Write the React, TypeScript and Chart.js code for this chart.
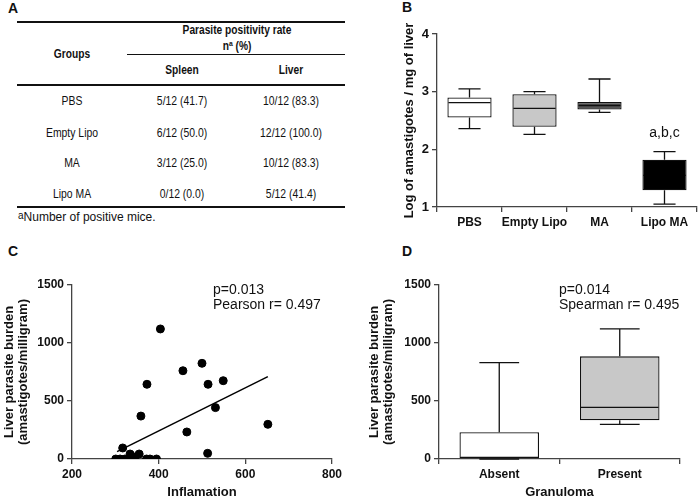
import React, { useEffect, useRef } from 'react';
import { Chart, registerables } from 'chart.js';
Chart.register(...registerables);

const FONT = "'Liberation Sans', Arial, sans-serif";
const INK = '#111111';
const AXIS = '#444444';

// ---------- Panel A (table) ----------
const tableGroups = ['PBS', 'Empty Lipo', 'MA', 'Lipo MA'];
const spleenCol = ['5/12 (41.7)', '6/12 (50.0)', '3/12 (25.0)', '0/12 (0.0)'];
const liverCol = ['10/12 (83.3)', '12/12 (100.0)', '10/12 (83.3)', '5/12 (41.4)'];

// ---------- Panel B (box plot) ----------
const bGroups = ['PBS', 'Empty Lipo', 'MA', 'Lipo MA'];
const bMin = [2.36, 2.26, 2.64, 1.05];
const bQ1 = [2.55, 2.39, 2.69, 1.29];
const bMedian = [2.81, 2.71, 2.76, 1.55];
const bQ3 = [2.9, 2.955, 2.82, 1.82];
const bMax = [3.05, 3.0, 3.22, 1.96];
const bColors = ['#ffffff', '#c8c8c8', '#555555', '#000000'];
const bMedianColors = ['#111111', '#111111', '#111111', '#000000'];
const bNote = 'a,b,c';
const bNoteValue = 2.28;

// ---------- Panel C (scatter) ----------
const inflamation = [301, 311, 317, 322, 334, 338, 345, 355, 372, 380, 395, 359, 465, 373, 404, 456, 500, 514, 531, 549, 652, 513];
const burden = [0, 0, 95, 0, 43, 0, 17, 43, 0, 0, 0, 370, 233, 644, 1121, 761, 825, 644, 443, 675, 299, 49];
const fitX = [304, 652];
const fitY = [63, 710];
const cStats = ['p=0.013', 'Pearson r= 0.497'];

// ---------- Panel D (box plot) ----------
const dGroups = ['Absent', 'Present'];
const dMin = [0, 299];
const dQ1 = [0, 333];
const dMedian = [14, 445];
const dQ3 = [230, 885];
const dMax = [830, 1121];
const dColors = ['#ffffff', '#c8c8c8'];
const dMedianColors = ['#111111', '#111111'];
const dStats = ['p=0.014', 'Spearman r= 0.495'];

const burdenTitle = ['Liver parasite burden', '(amastigotes/milligram)'];

const plainTick = (v: any) => String(v);

function whiskerPlugin(mins: number[], q1s: number[], meds: number[], q3s: number[], maxs: number[], medColors: string[]) {
  return {
    id: 'whiskers',
    afterDatasetsDraw(chart: any) {
      const meta = chart.getDatasetMeta(0);
      const ys = chart.scales.y;
      const ctx = chart.ctx;
      ctx.save();
      ctx.lineWidth = 1.3;
      meta.data.forEach((el: any, i: number) => {
        const { x, width } = el.getProps(['x', 'width'], true);
        const yMin = ys.getPixelForValue(mins[i]);
        const yQ1 = ys.getPixelForValue(q1s[i]);
        const yMed = ys.getPixelForValue(meds[i]);
        const yQ3 = ys.getPixelForValue(q3s[i]);
        const yMax = ys.getPixelForValue(maxs[i]);
        ctx.strokeStyle = INK;
        ctx.beginPath();
        ctx.moveTo(x, yQ3); ctx.lineTo(x, yMax);
        ctx.moveTo(x - width / 4, yMax); ctx.lineTo(x + width / 4, yMax);
        ctx.moveTo(x, yQ1); ctx.lineTo(x, yMin);
        ctx.moveTo(x - width / 4, yMin); ctx.lineTo(x + width / 4, yMin);
        ctx.stroke();
        ctx.strokeStyle = medColors[i];
        ctx.beginPath();
        ctx.moveTo(x - width / 2 + 1, yMed); ctx.lineTo(x + width / 2 - 1, yMed);
        ctx.stroke();
      });
      ctx.restore();
    },
  };
}

type Note = { lines: string[]; at: (chart: any) => { x: number; y: number }; align: CanvasTextAlign; size: number; gap: number };

function notePlugin(notes: Note[]) {
  return {
    id: 'notes',
    afterDraw(chart: any) {
      const ctx = chart.ctx;
      ctx.save();
      notes.forEach((n) => {
        const p = n.at(chart);
        ctx.font = `${n.size}px ${FONT}`;
        ctx.fillStyle = INK;
        ctx.textAlign = n.align;
        ctx.textBaseline = 'middle';
        n.lines.forEach((l, i) => ctx.fillText(l, p.x, p.y + i * n.gap));
      });
      ctx.restore();
    },
  };
}

function axisCommon(extra: any) {
  return {
    border: { display: true, color: AXIS, width: 1.3 },
    grid: { display: true, drawOnChartArea: false, drawTicks: true, tickLength: 5, color: AXIS, lineWidth: 1.3 },
    ...extra,
  };
}

function boxConfig(opts: {
  labels: string[]; mins: number[]; q1s: number[]; meds: number[]; q3s: number[]; maxs: number[];
  colors: string[]; medColors: string[]; yMin: number; yMax: number; step: number; yWidth: number; xHeight: number;
  padding: any; yTitle: string | string[]; yTitlePad: number; xTitle?: string; barPct: number;
  tickSize: number; notes: Note[];
}) {
  return {
    type: 'bar',
    data: {
      labels: opts.labels,
      datasets: [
        {
          data: opts.q1s.map((v, i) => [v, opts.q3s[i]]),
          backgroundColor: opts.colors,
          borderColor: INK,
          borderWidth: 1.3,
          borderSkipped: false,
          categoryPercentage: 1,
          barPercentage: opts.barPct,
        },
      ],
    },
    options: {
      responsive: false,
      animation: false,
      layout: { padding: opts.padding },
      plugins: { legend: { display: false }, tooltip: { enabled: false } },
      scales: {
        x: axisCommon({
          afterFit: (s: any) => { s.height = opts.xHeight; },
          ticks: { color: INK, font: { family: FONT, size: 12, weight: 'bold' }, padding: 3, maxRotation: 0, minRotation: 0, autoSkip: false },
          title: opts.xTitle
            ? { display: true, text: opts.xTitle, color: INK, font: { family: FONT, size: 13, weight: 'bold' }, padding: { top: 0, bottom: 0 } }
            : { display: false },
        }),
        y: axisCommon({
          min: opts.yMin,
          max: opts.yMax,
          afterFit: (s: any) => { s.width = opts.yWidth; },
          ticks: { stepSize: opts.step, callback: plainTick, color: INK, font: { family: FONT, size: opts.tickSize, weight: 'bold' }, padding: 3 },
          title: { display: true, text: opts.yTitle, color: INK, font: { family: FONT, size: 13, weight: 'bold', lineHeight: 1.1 }, padding: { top: opts.yTitlePad, bottom: 0 } },
        }),
      },
    },
    plugins: [whiskerPlugin(opts.mins, opts.q1s, opts.meds, opts.q3s, opts.maxs, opts.medColors), notePlugin(opts.notes)],
  };
}

function ChartBox({ left, top, width, height, config }: { left: number; top: number; width: number; height: number; config: () => any }) {
  const ref = useRef<HTMLCanvasElement | null>(null);
  useEffect(() => {
    if (!ref.current) return;
    const chart = new Chart(ref.current, config());
    return () => chart.destroy();
  }, []);
  return (
    <div style={{ position: 'absolute', left, top, width, height }}>
      <canvas ref={ref} width={width} height={height} style={{ width, height, display: 'block' }} />
    </div>
  );
}

const centered = (x: number, y: number, extra: React.CSSProperties = {}, sx = 1): React.CSSProperties => ({
  position: 'absolute', left: x, top: y, transform: `translate(-50%, -50%) scaleX(${sx})`, whiteSpace: 'nowrap', lineHeight: 1, ...extra,
});

function PanelLabel({ text, left, top }: { text: string; left: number; top: number }) {
  return <div style={{ position: 'absolute', left, top, font: `bold 14px ${FONT}`, lineHeight: '14px', color: INK }}>{text}</div>;
}

function TableA() {
  const rowY = [100, 132, 162, 193];
  const cell: React.CSSProperties = { fontFamily: FONT, fontSize: 13, color: INK };
  const head: React.CSSProperties = { fontFamily: FONT, fontSize: 12, fontWeight: 'bold', color: INK };
  const SX = 0.8;
  const line = (y: number, x1: number, x2: number, h: number) => (
    <div style={{ position: 'absolute', left: x1, top: y - h / 2, width: x2 - x1, height: h, background: INK }} />
  );
  return (
    <>
      {line(22, 17, 345, 2)}
      <div style={centered(237, 30, head, 0.85)}>Parasite positivity rate</div>
      <div style={centered(237, 46, head, 0.85)}>n<sup style={{ fontSize: 8, verticalAlign: 'top' }}>a</sup> (%)</div>
      {line(54, 127, 345, 1)}
      <div style={centered(72, 54, head, 0.85)}>Groups</div>
      <div style={centered(182, 70, head, 0.85)}>Spleen</div>
      <div style={centered(291, 70, head, 0.85)}>Liver</div>
      {line(85, 17, 345, 2)}
      {tableGroups.map((g, i) => (
        <React.Fragment key={g}>
          <div style={centered(72, rowY[i], cell, SX)}>{g}</div>
          <div style={centered(182, rowY[i], cell, SX)}>{spleenCol[i]}</div>
          <div style={centered(291, rowY[i], cell, SX)}>{liverCol[i]}</div>
        </React.Fragment>
      ))}
      {line(207, 17, 345, 2)}
      <div style={{ position: 'absolute', left: 18, top: 211, fontFamily: FONT, fontSize: 12, color: INK, whiteSpace: 'nowrap', lineHeight: 1 }}>
        <span style={{ fontSize: 10, verticalAlign: 'top' }}>a</span>Number of positive mice.
      </div>
    </>
  );
}

function configB() {
  return boxConfig({
    labels: bGroups, mins: bMin, q1s: bQ1, meds: bMedian, q3s: bQ3, maxs: bMax, colors: bColors, medColors: bMedianColors,
    yMin: 1, yMax: 4, step: 1, yWidth: 57, xHeight: 33,
    padding: { top: 14, right: 3, left: 0, bottom: 0 },
    yTitle: 'Log of amastigotes / mg of liver', yTitlePad: 22, barPct: 0.68, tickSize: 13,
    notes: [{
      lines: [bNote], size: 14, gap: 0, align: 'center',
      at: (c: any) => ({ x: c.scales.x.getPixelForValue(3), y: c.scales.y.getPixelForValue(bNoteValue) }),
    }],
  });
}

function configD() {
  return boxConfig({
    labels: dGroups, mins: dMin, q1s: dQ1, meds: dMedian, q3s: dQ3, maxs: dMax, colors: dColors, medColors: dMedianColors,
    yMin: 0, yMax: 1500, step: 500, yWidth: 89, xHeight: 41,
    padding: { top: 15, right: 20, left: 0, bottom: 0 },
    yTitle: burdenTitle, yTitlePad: 17, xTitle: 'Granuloma', barPct: 0.66, tickSize: 12,
    notes: [{
      lines: dStats, size: 14, gap: 15, align: 'left',
      at: (c: any) => ({ x: c.chartArea.left + 120, y: c.chartArea.top + 5 }),
    }],
  });
}

function configC() {
  return {
    type: 'scatter',
    data: {
      datasets: [
        {
          data: inflamation.map((x, i) => ({ x, y: burden[i] })),
          backgroundColor: '#000000',
          borderColor: '#000000',
          pointRadius: 4,
          pointHoverRadius: 4,
        },
        {
          type: 'line',
          data: fitX.map((x, i) => ({ x, y: fitY[i] })),
          borderColor: '#000000',
          borderWidth: 1.5,
          pointRadius: 0,
          showLine: true,
          fill: false,
        },
      ],
    },
    options: {
      responsive: false,
      animation: false,
      layout: { padding: { top: 15, right: 13, left: 0, bottom: 0 } },
      plugins: { legend: { display: false }, tooltip: { enabled: false } },
      scales: {
        x: axisCommon({
          type: 'linear', min: 200, max: 800,
          afterFit: (s: any) => { s.height = 41; },
          ticks: { stepSize: 200, callback: plainTick, color: INK, font: { family: FONT, size: 12, weight: 'bold' }, padding: 3, maxRotation: 0 },
          title: { display: true, text: 'Inflamation', color: INK, font: { family: FONT, size: 13, weight: 'bold' }, padding: { top: 0, bottom: 0 } },
        }),
        y: axisCommon({
          min: 0, max: 1500,
          afterFit: (s: any) => { s.width = 72; },
          ticks: { stepSize: 500, callback: plainTick, color: INK, font: { family: FONT, size: 12, weight: 'bold' }, padding: 3 },
          title: { display: true, text: burdenTitle, color: INK, font: { family: FONT, size: 13, weight: 'bold', lineHeight: 1.1 }, padding: { top: 2, bottom: 0 } },
        }),
      },
    },
    plugins: [notePlugin([{
      lines: cStats, size: 14, gap: 15, align: 'left',
      at: (c: any) => ({ x: c.chartArea.left + 141, y: c.chartArea.top + 5 }),
    }])],
  };
}

export default function App() {
  return (
    <div style={{ position: 'fixed', left: 0, top: 0, width: 700, height: 500, background: '#ffffff', overflow: 'hidden' }}>
      <PanelLabel text="A" left={8} top={1} />
      <PanelLabel text="B" left={402} top={0} />
      <PanelLabel text="C" left={8} top={244} />
      <PanelLabel text="D" left={402} top={244} />
      <TableA />
      <ChartBox left={380} top={20} width={320} height={220} config={configB} />
      <ChartBox left={0} top={270} width={345} height={230} config={configC} />
      <ChartBox left={350} top={270} width={350} height={230} config={configD} />
    </div>
  );
}
